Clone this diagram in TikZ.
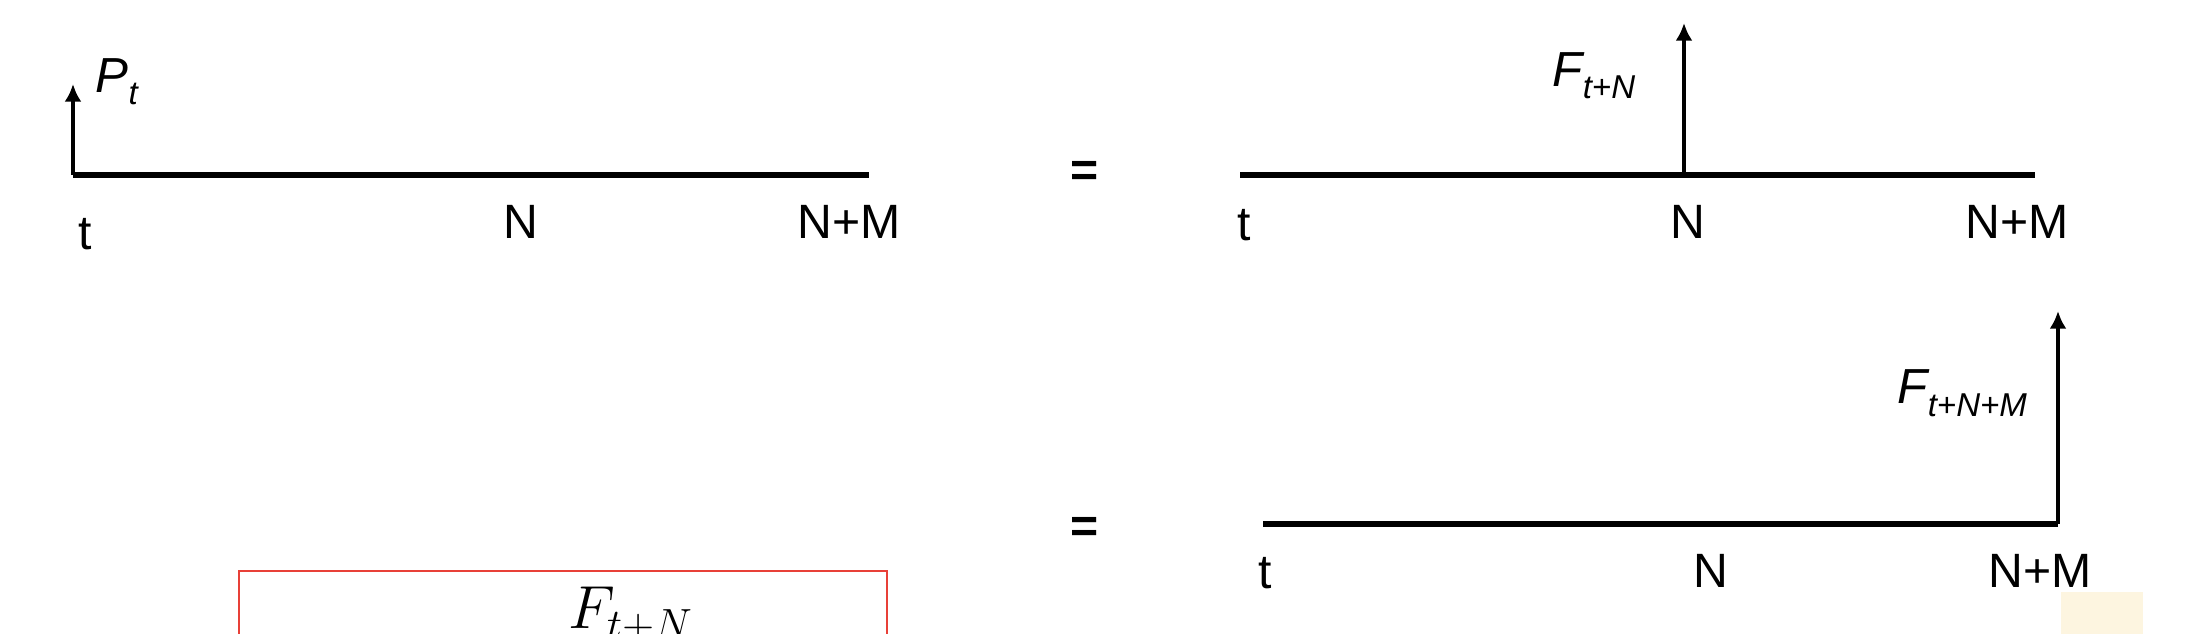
\documentclass[tikz,border=0pt]{standalone}
\usepackage{fontspec}
\setmainfont{Liberation Sans}
\usetikzlibrary{arrows.meta,positioning}
\definecolor{boxred}{RGB}{232,64,56}
\definecolor{notebg}{RGB}{253,245,224}
\newcommand{\lowsub}[1]{\raisebox{-0.12cm}{\fontsize{9.4}{10}\selectfont #1}}

\begin{document}
\begin{tikzpicture}[x=0.01cm,y=-0.01cm,
  axis/.style={line width=1.5pt},
  flow/.style={line width=1.2pt,-{Latex[length=5pt,width=4.8pt]}},
  tick/.style={font=\fontsize{13.7}{16}\selectfont,inner sep=0pt},
  flab/.style={font=\fontsize{14}{16}\selectfont\itshape,inner sep=0pt}]
\clip (0,0) rectangle (2190,634);

% price today
\coordinate (t1) at (73,175);
\coordinate (e1) at (869,175);
\coordinate (p1) at (73,84);
\draw[axis] (t1) -- (e1);
\draw[flow] (t1) -- (p1);
\node[flab,anchor=base west] (pt) at (95,93) {P\lowsub{t}};
\node[tick,anchor=base] (lt1) at (85,250) {t};
\node[tick,anchor=base] (ln1) at (521,239) {N};
\node[tick,anchor=base] (lnm1) at (849,239) {N+M};

\node[tick,font=\fontsize{13.7}{16}\selectfont\bfseries] (eq1) at (1085,174) {=};

% forward at N
\coordinate (t2) at (1240,175);
\coordinate (e2) at (2035,175);
\coordinate (n2) at (1684,175);
\coordinate (f2) at (1684,23);
\draw[axis] (t2) -- (e2);
\draw[flow] (n2) -- (f2);
\node[flab,anchor=base west] (fn) at (1552,87) {F\lowsub{t+N}};
\node[tick,anchor=base] (lt2) at (1244,241) {t};
\node[tick,anchor=base] (ln2) at (1688,239) {N};
\node[tick,anchor=base] (lnm2) at (2017,239) {N+M};

\node[tick,font=\fontsize{13.7}{16}\selectfont\bfseries] (eq2) at (1085,530) {=};

% forward at N+M
\coordinate (t3) at (1263,524);
\coordinate (e3) at (2058,524);
\coordinate (f3) at (2058,311);
\draw[axis] (t3) -- (e3);
\draw[flow] (e3) -- (f3);
\node[flab,anchor=base west] (fnm) at (1897,404) {F\lowsub{t+N+M}};
\node[tick,anchor=base] (lt3) at (1265,589) {t};
\node[tick,anchor=base] (ln3) at (1711,588) {N};
\node[tick,anchor=base] (lnm3) at (2040,588) {N+M};

\node[draw=boxred,line width=0.7pt,minimum width=6.48cm,minimum height=1.8cm,inner sep=0pt] (fbox) at (563,661) {};
\node[anchor=base west,inner sep=0pt,font=\fontsize{17}{20}\selectfont] (fbig) at (568,629) {$F_{t+N}$};

\fill[notebg] (2061,592) rectangle (2143,634);
\end{tikzpicture}
\end{document}
